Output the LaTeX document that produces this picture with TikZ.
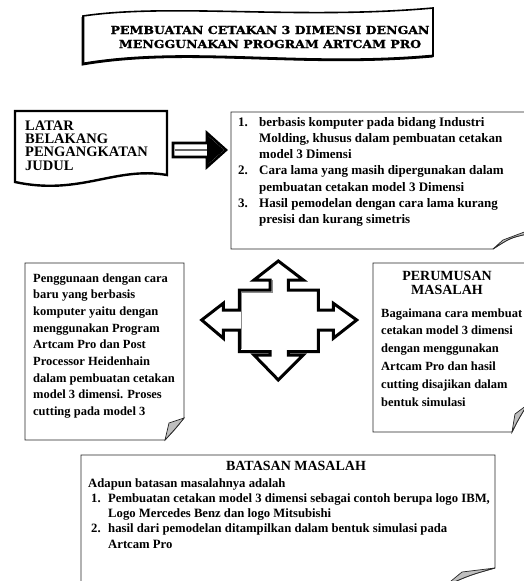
\documentclass[tikz,border=0pt]{standalone}
\usepackage{fontspec}
\setmainfont{Liberation Serif}
\newfontfamily\titlefont{DejaVu Serif}[BoldFont={DejaVu Serif Bold}, FakeStretch=1.14, FakeBold=1.2]
\begin{document}
\begin{tikzpicture}[x=1pt,y=-1pt,line join=miter]
\tikzset{
  boxline/.style={draw=black!85, line width=0.9pt, fill=white},
  flap/.style={draw=black!85, line width=0.7pt, fill=black!25},
  heavy/.style={draw=black, line width=2.6pt, fill=white},
  txt/.style n args={2}{font=\bfseries\fontsize{#1}{#2}\selectfont, inner sep=0pt, anchor=base west},
  headtxt/.style={font=\bfseries\fontsize{14}{14}\selectfont, inner sep=0pt, anchor=base},
}
\useasboundingbox (0,0) rectangle (523,581);

% ---------- title banner ----------
\draw[heavy, line width=1.6pt] (83,16) .. controls (170,3) and (300,20) .. (433,8)
   -- (433,56) .. controls (300,68) and (190,46) .. (83,64) -- cycle;
\draw[black, line width=2.8pt] (83,17) -- (83,64) .. controls (190,46) and (300,68) .. (433,56);
\node[font=\titlefont\bfseries\fontsize{11}{14}\selectfont, inner sep=0pt, anchor=base] (title) at (270,34)
  {\begin{tabular}[t]{@{}c@{}}PEMBUATAN CETAKAN 3 DIMENSI DENGAN\\MENGGUNAKAN PROGRAM ARTCAM PRO\end{tabular}};

% ---------- LATAR document shape ----------
\draw[heavy, line width=2.4pt] (15,111) -- (167,111) -- (167,175)
   .. controls (115,166) and (80,196) .. (15,182) -- cycle;
\node[font=\bfseries\fontsize{14.5}{12.6}\selectfont, inner sep=0pt, anchor=base west] (latar) at (25,130)
  {\begin{tabular}[t]{@{}l@{}}LATAR\\BELAKANG\\PENGANGKATAN\\JUDUL\end{tabular}};

% ---------- block arrow ----------
\draw[heavy, line width=2.6pt] (173,143) -- (207,143) -- (207,133) -- (226,150) -- (207,167) -- (207,157) -- (173,157) -- cycle;
\draw[black!60, line width=1.6pt] (175,150) -- (209,150);
\fill[black] (207,135) -- (224,150) -- (207,165) -- cycle;

% ---------- top right box ----------
\draw[boxline] (231,112) -- (527,112) -- (527,234) .. controls (510,238) .. (493,249) -- (231,249) -- cycle;
\draw[flap] (493,249) -- (503,240) -- (527,231) -- (527,234) .. controls (510,238) .. (493,249) -- cycle;
\node[txt={13}{16.3}] (latarlist) at (238,126)
  {\begin{tabular}[t]{@{}p{21pt}@{}l@{}}
   1. & berbasis komputer pada bidang Industri\\
      & Molding, khusus dalam pembuatan cetakan\\
      & model 3 Dimensi\\
   2. & Cara lama yang masih dipergunakan dalam\\
      & pembuatan cetakan model 3 Dimensi\\
   3. & Hasil pemodelan dengan cara lama kurang\\
      & presisi dan kurang simetris
  \end{tabular}};

% ---------- four-way arrow ----------
\draw[heavy, line width=3pt] (278.3,261) -- (303.3,280) -- (288.3,280) -- (288.3,290) -- (318.3,290) -- (318.3,310)
  -- (333.3,310) -- (333.3,303.3) -- (356.7,320) -- (333.3,338.3) -- (333.3,330) -- (318.3,330) -- (318.3,351.7)
  -- (288.3,351.7) -- (288.3,355) -- (303.3,355) -- (278.3,380) -- (254,355) -- (270,355) -- (270,351.7)
  -- (239.3,351.7) -- (239.3,330) -- (223.3,330) -- (223.3,338.3) -- (201.7,320) -- (223.3,303.3) -- (223.3,310)
  -- (239.3,310) -- (239.3,290) -- (270,290) -- (270,280) -- (254,280) -- cycle;
\draw[black!45, line width=0.8pt] (272.5,280) -- (272.5,292.5) -- (241.8,292.5) -- (241.8,349.2);

% ---------- left box ----------
\draw[boxline] (25,263) -- (184,263) -- (184,418) .. controls (176,428) .. (165,440) -- (25,440) -- cycle;
\draw[flap] (165,440) -- (169,423) -- (184,418) .. controls (176,428) .. (165,440) -- cycle;
\node[txt={12.5}{16.7}] (newway) at (33,282)
  {\begin{tabular}[t]{@{}l@{}}
   Penggunaan dengan cara\\
   baru yang berbasis\\
   komputer yaitu dengan\\
   menggunakan Program\\
   Artcam Pro dan Post\\
   Processor Heidenhain\\
   dalam pembuatan cetakan\\
   model 3 dimensi. Proses\\
   cutting pada model 3
  \end{tabular}};

% ---------- right box ----------
\draw[boxline] (373,263) -- (527,263) -- (527,405) .. controls (518,420) .. (512,432) -- (373,432) -- cycle;
\draw[flap] (512,432) -- (515,414) -- (527,405) .. controls (518,420) .. (512,432) -- cycle;
\node[headtxt] (perumusan) at (447,280) {PERUMUSAN};
\node[headtxt] (masalah) at (447,294) {MASALAH};
\node[txt={12.5}{17.8}] (rumusan) at (381,317)
  {\begin{tabular}[t]{@{}l@{}}
   Bagaimana cara membuat\\
   cetakan model 3 dimensi\\
   dengan menggunakan\\
   Artcam Pro dan hasil\\
   cutting disajikan dalam\\
   bentuk simulasi
  \end{tabular}};

% ---------- bottom box ----------
\draw[boxline] (81,455) -- (495,455) -- (495,568) .. controls (470,575) .. (445,586) -- (81,586) -- cycle;
\draw[flap] (445,586) -- (462,572) -- (495,568) .. controls (470,575) .. (445,586) -- cycle;
\node[headtxt] (batasan) at (296,470) {BATASAN MASALAH};
\node[txt={12.7}{15.3}] (batasanlist) at (88,487)
  {\begin{tabular}[t]{@{}p{20pt}@{}l@{}}
   \multicolumn{2}{@{}l@{}}{Adapun batasan masalahnya adalah}\\
   \hspace*{3pt}1. & Pembuatan cetakan model 3 dimensi sebagai contoh berupa logo IBM,\\
      & Logo Mercedes Benz dan logo Mitsubishi\\
   \hspace*{3pt}2. & hasil dari pemodelan ditampilkan dalam bentuk simulasi pada\\
      & Artcam Pro
  \end{tabular}};
\end{tikzpicture}
\end{document}
